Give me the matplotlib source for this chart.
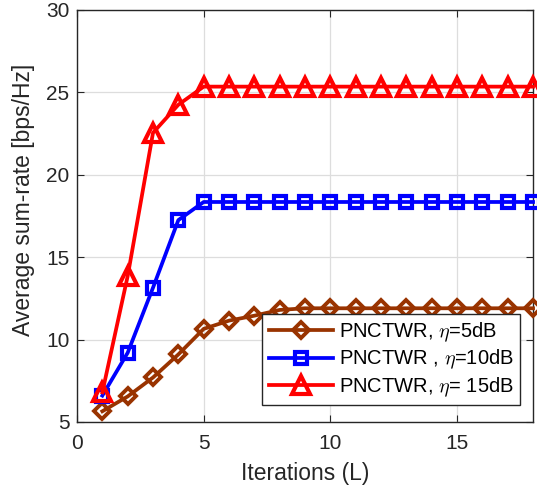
import numpy as np
import matplotlib

matplotlib.use("Agg")
import matplotlib.pyplot as plt

plt.rcParams["font.family"] = ["Liberation Sans", "DejaVu Sans"]
plt.rcParams["mathtext.fontset"] = "cm"

# average sum-rate per iteration, one series per SNR
iters = np.arange(1, 19)
rate_5db = [5.65, 6.55, 7.7, 9.1, 10.65, 11.15, 11.45, 11.8, 11.9, 11.9,
            11.9, 11.9, 11.9, 11.9, 11.9, 11.9, 11.9, 11.9]
rate_10db = [6.6, 9.2, 13.15, 17.25, 18.35, 18.35, 18.35, 18.35, 18.35,
             18.35, 18.35, 18.35, 18.35, 18.35, 18.35, 18.35, 18.35, 18.35]
rate_15db = [6.8, 13.85, 22.55, 24.25, 25.35, 25.35, 25.35, 25.35, 25.35,
             25.35, 25.35, 25.35, 25.35, 25.35, 25.35, 25.35, 25.35, 25.35]
labels = [r"PNCTWR, $\eta$=5dB", r"PNCTWR , $\eta$=10dB",
          r"PNCTWR, $\eta$= 15dB"]

fig = plt.figure(figsize=(5.37, 4.95), dpi=100)
ax = fig.add_axes([0.1434, 0.1475, 0.8492, 0.8323])

ax.plot(iters, rate_5db, color=(0.6, 0.2, 0.0), lw=2.7, marker="D", ms=8.5,
        mfc="none", mew=2.8, label=labels[0], clip_on=False, zorder=3)
ax.plot(iters, rate_10db, color="#0000ff", lw=2.7, marker="s", ms=8,
        mfc="none", mew=3.0, label=labels[1], clip_on=False, zorder=3)
ax.plot(iters, rate_15db, color="#ff0000", lw=2.7, marker="^", ms=12.5,
        mfc="none", mew=3.0, label=labels[2], clip_on=False, zorder=3)

ax.set_xlim(0, 18)
ax.set_ylim(5, 30)
ax.set_xticks([0, 5, 10, 15])
ax.set_yticks([5, 10, 15, 20, 25, 30])
ax.grid(True, color="#dddddd", lw=0.9)
ax.set_axisbelow(True)
ax.tick_params(direction="in", labelsize=15, colors="#262626",
               top=True, right=True, length=5)
ax.tick_params(axis="x", pad=9)
ax.tick_params(axis="y", pad=5.5)
for s in ax.spines.values():
    s.set_color("#262626")
    s.set_linewidth(1.0)

ax.set_xlabel("Iterations (L)", fontsize=16.5, color="#262626")
ax.set_ylabel("Average sum-rate [bps/Hz]", fontsize=16.5, color="#262626")
ax.xaxis.set_label_coords(0.5, -0.097)
ax.yaxis.set_label_coords(-0.092, 0.54)

leg = ax.legend(loc="lower right", bbox_to_anchor=(0.971, 0.041),
                borderaxespad=0, fontsize=14.5, fancybox=False, framealpha=1,
                edgecolor="#262626", handlelength=3.2, borderpad=0.3,
                labelspacing=0.2, handletextpad=0.3)
leg.get_frame().set_linewidth(1.0)

fig.savefig("out.png", dpi=100)
